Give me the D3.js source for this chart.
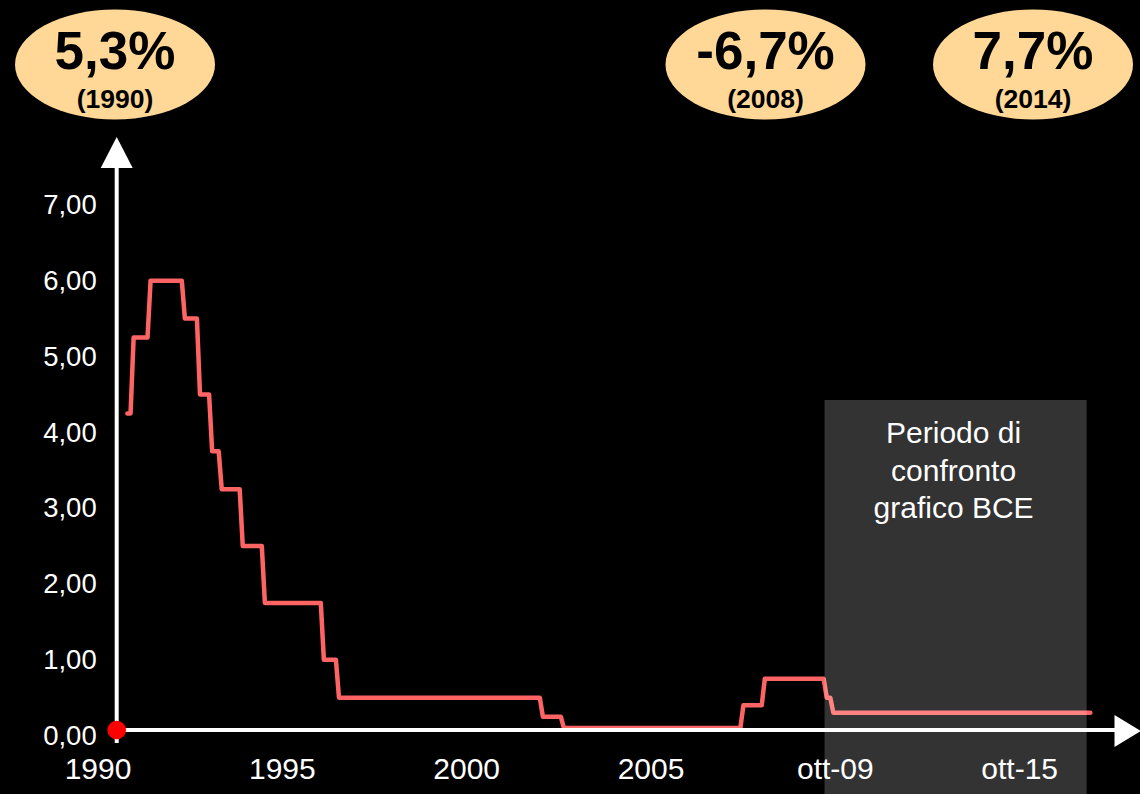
<!DOCTYPE html>
<html>
<head>
<meta charset="utf-8">
<script src="https://cdn.jsdelivr.net/npm/d3@7"></script>
<style>
  html, body { margin: 0; padding: 0; background: #000; }
  svg { display: block; }
  text { font-family: "Liberation Sans", Arial, sans-serif; }
</style>
</head>
<body>
<svg id="chart" width="1140" height="794"></svg>
<script>
// Official rate: dates (decimal years) where a new level starts, and the level
const changeDates = [1990.81, 1990.98, 1991.44, 1992.37, 1992.78, 1993.11, 1993.37, 1993.94,
                     1994.54, 1996.14, 1996.55, 2002.08, 2002.65, 2007.52, 2008.10, 2009.78, 2009.96];
const rateValues  = [4.25, 5.25, 6.00, 5.50, 4.50, 3.75, 3.25, 2.50,
                     1.75, 1.00, 0.50, 0.25, 0.10, 0.40, 0.75, 0.50, 0.30];
const lastDate = 2016.93;

// Horizontal axis ticks and their labels
const tickYears  = [1990, 1995, 2000, 2005, 2010, 2015];
const tickLabels = ["1990", "1995", "2000", "2005", "ott-09", "ott-15"];
const yTicks = [0, 1, 2, 3, 4, 5, 6, 7];

// Growth call-outs
const growthLabels = ["5,3%", "-6,7%", "7,7%"];
const growthYears  = ["(1990)", "(2008)", "(2014)"];

// Highlighted comparison window
const windowStart = 2009.72;
const windowEnd   = 2016.83;
const windowLines = ["Periodo di", "confronto", "grafico BCE"];

const svg = d3.select("#chart");
const W = 1140, H = 794;

svg.append("rect").attr("width", W).attr("height", H).attr("fill", "#000");

const x = d3.scaleLinear().domain([1990, 2015]).range([97.5, 1019.2]);
const y = d3.scaleLinear().domain([0, 7]).range([735.6, 204.9]);

const axisX = 116.7;      // vertical axis position
const axisY = 730;        // horizontal axis position
const month = 1 / 12;

// Step series: each level is held until one month before the next change
const pts = [];
changeDates.forEach((d, i) => {
  const end = i < changeDates.length - 1 ? changeDates[i + 1] - month : lastDate;
  pts.push([d, rateValues[i]]);
  pts.push([end, rateValues[i]]);
});

const line = d3.line().x(d => x(d[0])).y(d => y(d[1]));

svg.append("path")
  .datum(pts)
  .attr("d", line)
  .attr("fill", "none")
  .attr("stroke", "#ff6464")
  .attr("stroke-width", 4.5)
  .attr("stroke-linejoin", "round")
  .attr("stroke-linecap", "round");

// Translucent comparison window
svg.append("rect")
  .attr("x", x(windowStart))
  .attr("y", 400)
  .attr("width", x(windowEnd) - x(windowStart))
  .attr("height", H - 400)
  .attr("fill", "#fff")
  .attr("fill-opacity", 0.2);

svg.append("g")
  .selectAll("text")
  .data(windowLines)
  .join("text")
  .attr("x", (x(windowStart) + x(windowEnd)) / 2 - 2)
  .attr("y", (d, i) => 443 + i * 37.5)
  .attr("text-anchor", "middle")
  .attr("fill", "#fff")
  .attr("font-size", 30)
  .text(d => d);

// Axes with arrowheads
svg.append("line")
  .attr("x1", axisX).attr("x2", axisX)
  .attr("y1", 166).attr("y2", 743)
  .attr("stroke", "#fff").attr("stroke-width", 4);
svg.append("path")
  .attr("d", `M${axisX},137 L${axisX - 16},168 L${axisX + 16},168 Z`)
  .attr("fill", "#fff");

svg.append("line")
  .attr("x1", axisX).attr("x2", 1116)
  .attr("y1", axisY).attr("y2", axisY)
  .attr("stroke", "#fff").attr("stroke-width", 4);
svg.append("path")
  .attr("d", `M1141,${axisY + 1} L1114.5,${axisY - 15} L1114.5,${axisY + 17} Z`)
  .attr("fill", "#fff");

svg.append("circle")
  .attr("cx", axisX).attr("cy", axisY)
  .attr("r", 9.3)
  .attr("fill", "#ff0000");

// Tick labels
const itFormat = d3.formatLocale({ decimal: ",", thousands: ".", grouping: [3], currency: ["", "€"] }).format(".2f");

const yAxis = svg.append("g")
  .attr("transform", `translate(${axisX},0)`)
  .call(d3.axisLeft(y).tickValues(yTicks).tickSize(0).tickPadding(20).tickFormat(itFormat));
yAxis.select(".domain").remove();
yAxis.selectAll("text")
  .attr("fill", "#fff")
  .attr("font-size", 27.5)
  .attr("font-family", "'Liberation Sans', Arial, sans-serif");

const xAxis = svg.append("g")
  .attr("transform", `translate(0,${axisY})`)
  .call(d3.axisBottom(x).tickValues(tickYears).tickSize(0).tickPadding(28)
    .tickFormat((d, i) => tickLabels[i]));
xAxis.select(".domain").remove();
xAxis.selectAll("text")
  .attr("fill", "#fff")
  .attr("font-size", 30)
  .attr("font-family", "'Liberation Sans', Arial, sans-serif");

// Growth call-out bubbles
const bubbleX = [115, 765.5, 1033];
const bubbles = svg.append("g")
  .selectAll("g")
  .data(growthLabels)
  .join("g")
  .attr("transform", (d, i) => `translate(${bubbleX[i]},64.5)`);

bubbles.append("ellipse")
  .attr("rx", 100).attr("ry", 55)
  .attr("fill", "#ffd797");

bubbles.append("text")
  .attr("y", 4)
  .attr("text-anchor", "middle")
  .attr("font-size", 53)
  .attr("font-weight", "bold")
  .attr("fill", "#000")
  .text(d => d);

bubbles.append("text")
  .attr("y", 43)
  .attr("text-anchor", "middle")
  .attr("font-size", 26.5)
  .attr("font-weight", "bold")
  .attr("fill", "#000")
  .text((d, i) => growthYears[i]);
</script>
</body>
</html>
